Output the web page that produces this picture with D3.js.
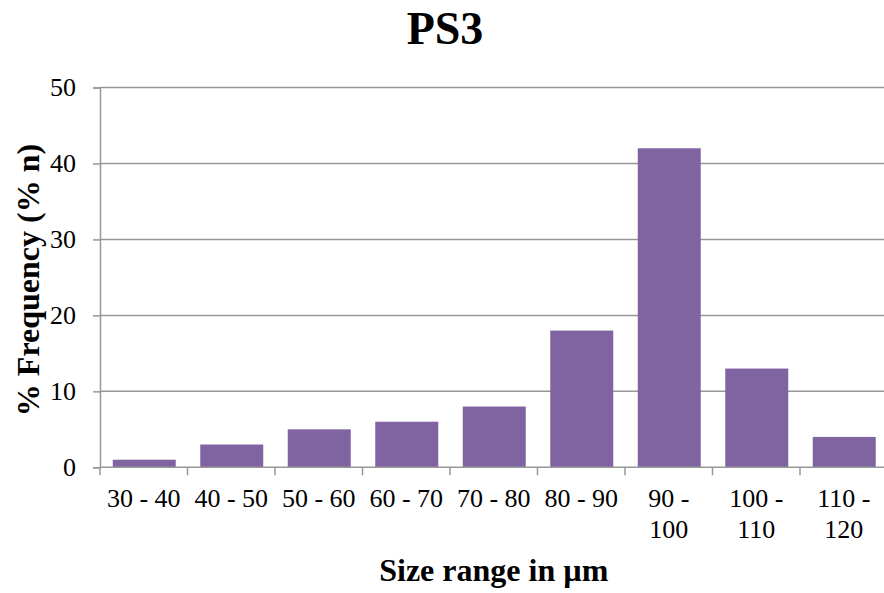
<!DOCTYPE html>
<html>
<head>
<meta charset="utf-8">
<script src="https://cdn.jsdelivr.net/npm/d3@7"></script>
<style>
  html, body { margin: 0; padding: 0; background: #fff; }
  svg { display: block; }
</style>
</head>
<body>
<svg id="chart" width="884" height="593"></svg>
<script>
const categories = ["30 - 40", "40 - 50", "50 - 60", "60 - 70", "70 - 80", "80 - 90", "90 - 100", "100 - 110", "110 - 120"];
const values = [1, 3, 5, 6, 8, 18, 42, 13, 4];
const yTicks = [0, 10, 20, 30, 40, 50];
const title = "PS3";
const xTitle = "Size range in µm";
const yTitle = "% Frequency (% n)";

const FONT = "'Liberation Serif'";

const svg = d3.select("#chart");
const W = 884, H = 593;
const margin = { left: 100, top: 87.5, right: -3.5, bottom: 593 - 467.3 };
const plotW = W - margin.left - margin.right;
const plotH = H - margin.top - margin.bottom;

const x = d3.scaleBand().domain(categories).range([margin.left, margin.left + plotW]).paddingInner(0.28).paddingOuter(0.14);
const y = d3.scaleLinear().domain([0, 50]).range([margin.top + plotH, margin.top]);

const gridColor = "#979797";

svg.append("g").selectAll("line").data(yTicks.filter(d => d > 0)).join("line")
  .attr("x1", margin.left).attr("x2", margin.left + plotW)
  .attr("y1", d => y(d)).attr("y2", d => y(d))
  .attr("stroke", gridColor).attr("stroke-width", 1.5);

svg.append("g").selectAll("rect").data(values).join("rect")
  .attr("x", (d, i) => x(categories[i]) + 0.5)
  .attr("width", x.bandwidth())
  .attr("y", d => y(d))
  .attr("height", d => y(0) - y(d))
  .attr("fill", "#8064A2");

const yAxis = d3.axisLeft(y).tickValues(yTicks).tickSize(7).tickPadding(17).tickFormat(d3.format("d"));
const gy = svg.append("g").attr("transform", `translate(${margin.left},0)`).call(yAxis);
gy.attr("font-family", null).attr("font-size", null);
gy.select(".domain").attr("stroke", gridColor).attr("stroke-width", 1.5);
gy.selectAll(".tick line").attr("stroke", gridColor).attr("stroke-width", 1.5);
gy.selectAll(".tick text").style("font-family", FONT).attr("font-size", 26).attr("fill", "#000");

const xAxis = d3.axisBottom(x).tickSize(0).tickPadding(0);
const gx = svg.append("g").attr("transform", `translate(0,${y(0)})`).call(xAxis);
gx.attr("font-family", null).attr("font-size", null);
gx.select(".domain").remove();
gx.selectAll(".tick line").remove();
const step = x.step();
const boundaries = d3.range(categories.length + 1).map(i => margin.left + i * step);
gx.append("path")
  .attr("d", `M${margin.left},0H${margin.left + plotW}`)
  .attr("stroke", gridColor).attr("stroke-width", 1.5).attr("fill", "none");
gx.selectAll(".btick").data(boundaries).join("line").attr("class", "btick")
  .attr("x1", d => d).attr("x2", d => d).attr("y1", 0).attr("y2", 8)
  .attr("stroke", gridColor).attr("stroke-width", 1.5);

gx.selectAll(".tick text").each(function(d) {
  const t = d3.select(this);
  t.style("font-family", FONT).attr("font-size", 26).attr("fill", "#000").attr("y", 40).attr("dy", null);
  const len = this.getComputedTextLength();
  if (len > step * 0.9) {
    const idx = d.lastIndexOf(" ");
    const l1 = d.slice(0, idx), l2 = d.slice(idx + 1);
    t.text(null);
    t.append("tspan").attr("x", 0).attr("y", 40).text(l1);
    t.append("tspan").attr("x", 0).attr("y", 71).text(l2);
  }
});

svg.append("text").attr("x", 445).attr("y", 44.3).attr("text-anchor", "middle")
  .style("font-family", FONT).attr("font-size", 46).attr("font-weight", "bold").text(title);

svg.append("text").attr("x", margin.left + (step * categories.length) / 2).attr("y", 580.7)
  .attr("text-anchor", "middle").style("font-family", FONT).attr("font-size", 32).attr("font-weight", "bold").text(xTitle);

svg.append("text").attr("transform", `translate(39,280) rotate(-90)`)
  .attr("text-anchor", "middle").style("font-family", FONT).attr("font-size", 32).attr("font-weight", "bold").text(yTitle);
</script>
</body>
</html>
